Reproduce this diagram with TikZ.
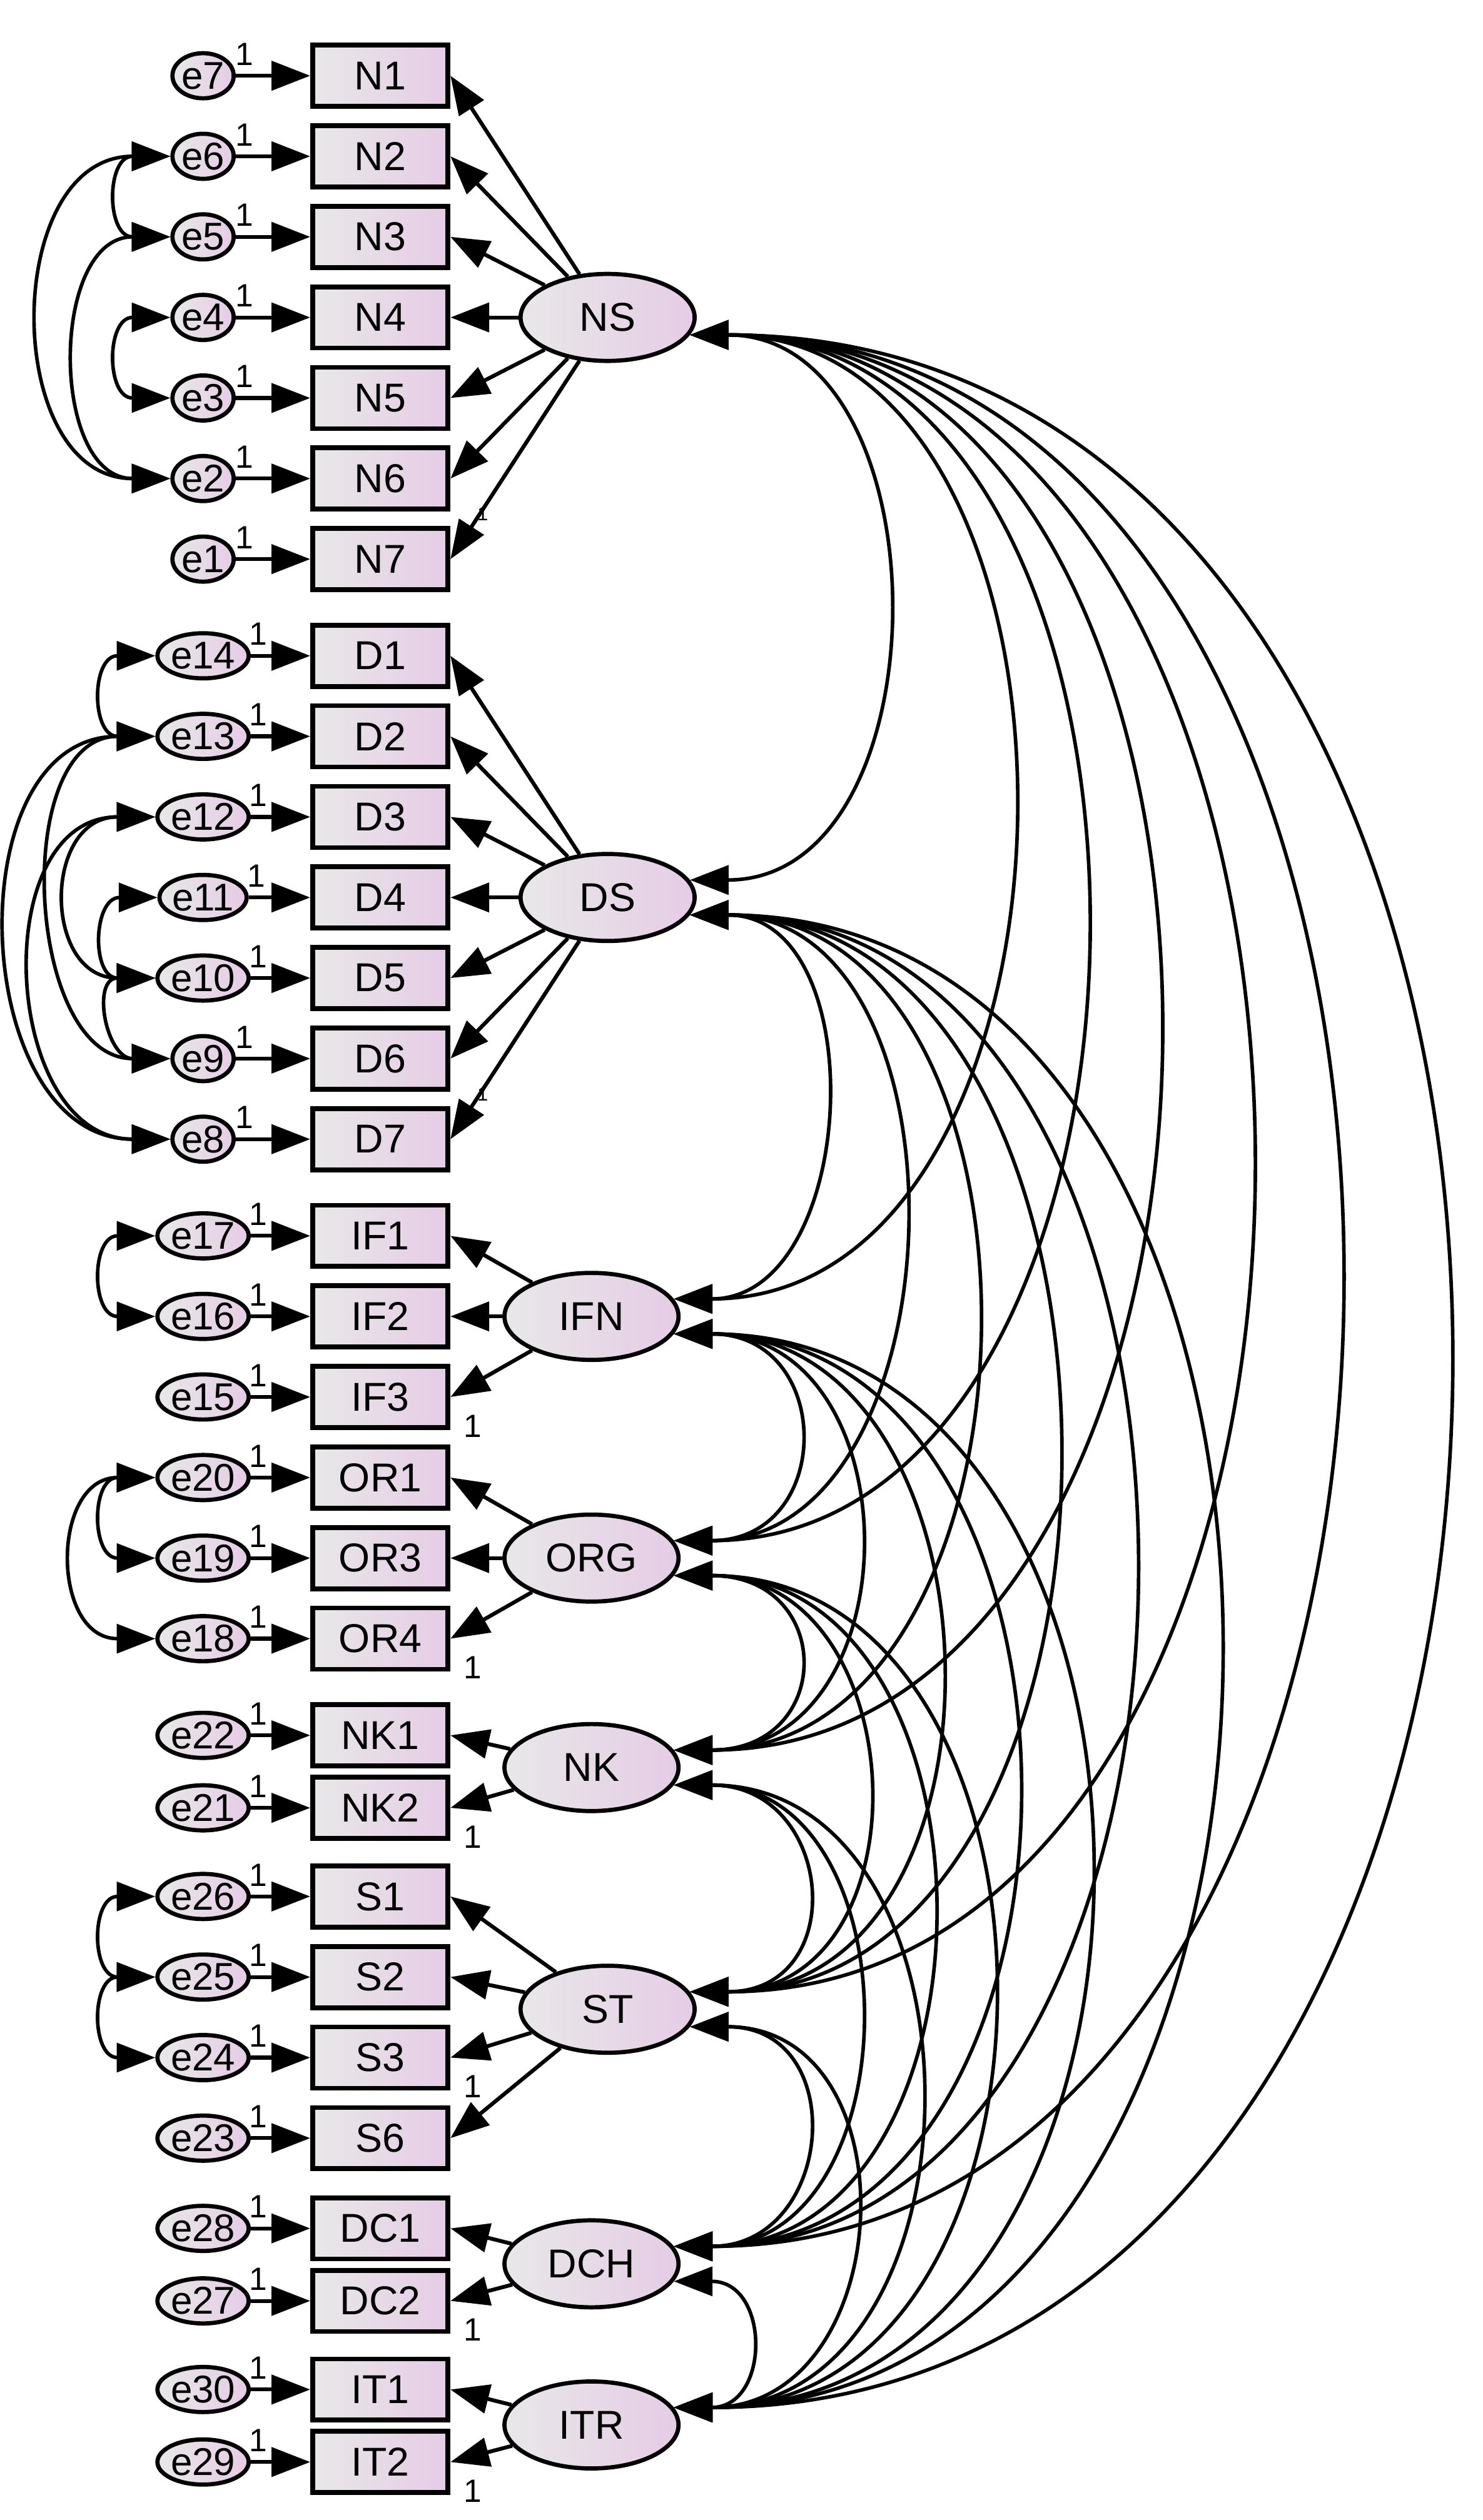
\documentclass[tikz,border=0pt]{standalone}
\usetikzlibrary{arrows.meta,shapes.geometric}
\usepackage{fontspec}
\setmainfont{Liberation Sans}
\begin{document}
\begin{tikzpicture}[x=1pt,y=-1pt,
  ar/.style={-{Triangle[length=24pt,width=18pt]},line width=2.4pt},
  cv/.style={{Triangle[length=24pt,width=18pt]}-{Triangle[length=24pt,width=18pt]},line width=2.2pt},
  obs/.style={draw,line width=3pt,minimum width=84pt,minimum height=38pt,left color=gray!18,right color=violet!20,font=\fontsize{25}{26}\selectfont},
  lat/.style={ellipse,draw,line width=2.6pt,minimum width=108pt,minimum height=54pt,left color=gray!18,right color=violet!20,font=\fontsize{25}{26}\selectfont},
  err/.style={ellipse,draw,line width=2.6pt,minimum width=38pt,minimum height=28pt,inner sep=0pt,left color=gray!18,right color=violet!20,font=\fontsize{24}{25}\selectfont},
  one/.style={font=\fontsize{20}{21}\selectfont}]
\useasboundingbox (0,0) rectangle (920,1564);
\foreach \n/\e/\y in {N1/e7/47,N2/e6/97,N3/e5/147,N4/e4/197,N5/e3/247,N6/e2/297,N7/e1/347,
  D1/e14/407,D2/e13/457,D3/e12/507,D4/e11/557,D5/e10/607,D6/e9/657,D7/e8/707,
  IF1/e17/767,IF2/e16/817,IF3/e15/867,OR1/e20/917,OR3/e19/967,OR4/e18/1017,
  NK1/e22/1077,NK2/e21/1122,S1/e26/1177,S2/e25/1227,S3/e24/1277,S6/e23/1327,
  DC1/e28/1383,DC2/e27/1428,IT1/e30/1483,IT2/e29/1528}{
  \node[obs] (\n) at (236,\y) {\n};
  \node[err] (\e) at (126,\y) {\e};
  \draw[ar] (\e) -- (\n.west) node[one,pos=0.12,above=2pt] {1};
}
\node[lat] (NS) at (377,197) {NS};
\node[lat] (DS) at (377,557) {DS};
\node[lat] (IFN) at (367,817) {IFN};
\node[lat] (ORG) at (367,967) {ORG};
\node[lat] (NK) at (367,1097) {NK};
\node[lat] (ST) at (377,1247) {ST};
\node[lat] (DCH) at (367,1405) {DCH};
\node[lat] (ITR) at (367,1505) {ITR};
\foreach \l/\list in {NS/{N1,N2,N3,N4,N5,N6,N7},DS/{D1,D2,D3,D4,D5,D6,D7},IFN/{IF1,IF2,IF3},ORG/{OR1,OR3,OR4},NK/{NK1,NK2},ST/{S1,S2,S3,S6},DCH/{DC1,DC2},ITR/{IT1,IT2}}{
  \foreach \o in \list { \draw[ar] (\l) -- (\o.east); }
}
\foreach \o in {IF3,OR4,NK2,S3,DC2,IT2}{ \node[one] at ([xshift=14pt,yshift=-18pt]\o.east) {1}; }
\foreach \o in {N6,D6}{ \node[one,scale=0.6] at ([xshift=20pt,yshift=-22pt]\o.east) {1}; }
\foreach \a/\b/\k in {NS/DS/160,NS/IFN/270,NS/ORG/330,NS/NK/390,NS/ST/460,NS/DCH/540,NS/ITR/630,
  DS/IFN/115,DS/ORG/180,DS/NK/240,DS/ST/300,DS/DCH/370,DS/ITR/440,
  IFN/ORG/100,IFN/NK/150,IFN/ST/210,IFN/DCH/280,IFN/ITR/340,
  ORG/NK/100,ORG/ST/150,ORG/DCH/210,ORG/ITR/260,
  NK/ST/100,NK/DCH/150,NK/ITR/200,
  ST/DCH/100,ST/ITR/140,DCH/ITR/60}{
  \draw[cv] (\a.-12) .. controls +(\k pt,0) and +(\k pt,0) .. (\b.12);
}
\foreach \a/\b/\k in {e6/e5/-40,e4/e3/-40,e5/e2/-75,e6/e2/-105,
  e14/e13/-40,e11/e10/-40,e10/e9/-40,e12/e10/-70,e13/e9/-90,e12/e8/-105,e13/e8/-125,
  e17/e16/-40,e20/e19/-40,e20/e18/-65,e26/e25/-40,e25/e24/-40}{
  \draw[cv] (\a.west) .. controls +(\k pt,0) and +(\k pt,0) .. (\b.west);
}
\end{tikzpicture}
\end{document}
